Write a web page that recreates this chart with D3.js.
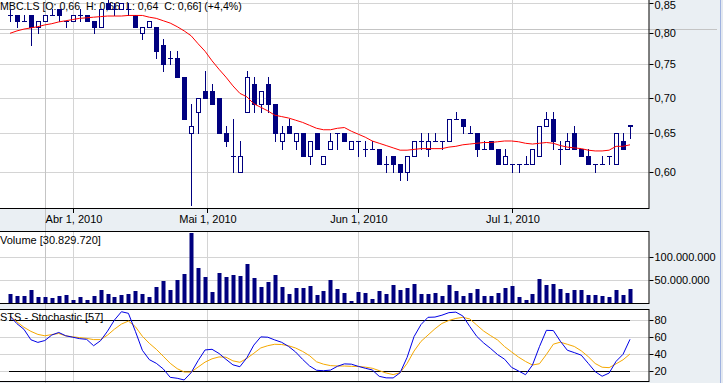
<!DOCTYPE html>
<html><head><meta charset="utf-8">
<script src="https://cdn.jsdelivr.net/npm/d3@7"></script>
<style>
body{margin:0;background:#eaeff3;}
svg{display:block}
text{font-family:"Liberation Sans",Arial,sans-serif;font-size:11px;fill:#000;white-space:pre;}
</style>
</head><body><svg id="c" width="723" height="383"></svg>
<script>
// ---------- data ----------
const openP  = [.83,.83,.82,.83,.81,.82,.83,.84,.82,.82, .83,.83,.82,.81,.85,.84,.84,.84,.83,.80, .81,.81,.78,.76,.76,.73,.65,.68,.71,.71, .70,.65,.62,.60,.68,.72,.69,.72,.69,.64, .66,.64,.65,.62,.65,.61,.63,.65,.65,.63, .64,.63,.63,.63,.61,.62,.61,.60,.62,.64, .63,.64,.64,.64,.67,.67,.65,.65,.63,.64, .63,.61,.61,.61,.61,.61,.62,.66,.67,.63, .63,.65,.63,.62,.61,.61,.62,.61,.64,.662];
const highP  = [.84,.83,.83,.83,.82,.83,.84,.84,.82,.83, .84,.83,.82,.84,.86,.85,.85,.85,.83,.81, .82,.81,.79,.77,.77,.73,.69,.70,.74,.72, .70,.66,.67,.64,.74,.73,.71,.73,.69,.66, .67,.65,.65,.64,.65,.62,.65,.65,.65,.64, .64,.64,.64,.63,.62,.62,.61,.62,.64,.65, .65,.65,.64,.67,.68,.67,.66,.65,.64,.64, .63,.63,.61,.61,.62,.63,.66,.68,.68,.64, .65,.66,.63,.63,.61,.62,.62,.65,.65,.662];
const lowP   = [.82,.81,.82,.78,.80,.82,.83,.82,.81,.82, .82,.82,.80,.81,.84,.83,.84,.83,.81,.79, .81,.76,.74,.75,.73,.67,.561,.65,.70,.69, .65,.633,.60,.60,.68,.68,.68,.68,.64,.63, .65,.63,.62,.61,.63,.61,.63,.63,.64,.63, .62,.62,.63,.61,.60,.60,.59,.59,.62,.63, .62,.64,.63,.64,.67,.65,.65,.62,.63,.63, .61,.61,.60,.60,.61,.61,.62,.66,.63,.61, .63,.63,.62,.61,.60,.61,.61,.61,.63,.644];
const closeP = [.83,.82,.82,.81,.82,.83,.83,.83,.82,.83, .83,.82,.81,.84,.84,.84,.85,.84,.81,.81, .82,.77,.75,.76,.73,.67,.66,.70,.70,.69, .65,.64,.62,.62,.73,.69,.71,.69,.65,.65, .65,.65,.62,.64,.63,.62,.64,.65,.64,.64, .64,.63,.63,.61,.61,.61,.60,.62,.64,.64, .64,.64,.64,.67,.67,.66,.65,.63,.63,.63, .61,.62,.61,.61,.61,.63,.66,.67,.64,.63, .64,.63,.62,.61,.61,.61,.62,.65,.63,.66];
const movingAvg = [.799,.803,.806,.808,.810,.813,.815,.818,.820,.822, .824,.825,.826,.827,.828,.828,.828,.829,.829,.829, .826,.824,.820,.816,.810,.803,.795,.782,.770,.755, .742,.730,.717,.706,.701,.691,.686,.681,.675,.673, .671,.668,.665,.661,.657,.655,.655,.657,.658,.653, .649,.645,.640,.637,.634,.631,.628,.628,.629,.630, .630,.630,.630,.632,.633,.635,.636,.637,.638,.638, .639,.640,.640,.639,.637,.636,.637,.638,.637,.634, .632,.631,.630,.628,.627,.627,.628,.633,.633,.635];
// volume in millions of shares
const volumeM = [20.6,16.2,16.2,29.2,14.1,14.1,11.9,16.2,18.4,7.6, 14.1,7.6,16.2,29.2,20.6,14.1,18.4,20.6,27.1,20.6, 14.1,35.7,48.7,29.2,50.9,63.9,152.6,76.8,57.4,24.9, 66.0,57.4,61.7,59.5,85.5,55.2,35.7,46.5,61.7,35.7, 20.6,33.5,33.5,37.9,18.4,27.1,50.9,31.4,22.7,5.4, 24.9,22.7,9.7,27.1,20.6,40.0,29.2,33.5,42.2,20.6, 20.6,22.7,16.2,40.0,27.1,16.2,22.7,31.4,16.2,16.2, 22.7,33.5,37.9,14.1,7.6,20.6,53.0,40.0,42.2,31.4, 22.7,29.2,29.2,18.4,18.4,16.2,14.1,29.2,18.4,30.8];
const stochK = [84.9,76.0,69.4,57.1,54.0,56.2,62.7,65.7,61.8,60.1, 58.4,57.6,50.1,56.0,67.2,80.4,90.1,88.2,67.0,44.7, 33.7,29.4,22.8,12.9,11.8,9.8,18.4,32.5,45.1,45.9, 41.0,34.1,27.6,25.4,35.9,50.8,60.5,60.1,56.9,54.1, 49.2,42.7,34.1,26.3,21.2,20.7,21.4,25.9,28.7,28.4, 25.8,23.6,21.6,14.1,12.3,12.2,18.3,36.3,60.8,75.0, 83.5,83.8,86.0,89.0,89.6,85.1,72.7,61.1,53.3,46.8, 39.6,34.2,24.6,20.4,16.0,27.4,49.0,68.2,67.9,55.4, 44.8,42.0,39.0,29.4,19.6,14.2,17.9,31.7,40.0,57.6];
const stochD = [85.1,78.1,71.8,67.0,63.4,61.8,63.2,64.5,61.7,60.6, 59.6,58.7,57.3,57.3,62.6,69.6,75.6,79.1,72.5,61.2, 52.9,45.9,37.7,29.4,23.1,19.2,19.1,25.0,30.8,34.7, 36.9,36.6,32.3,30.6,35.2,41.2,47.5,50.1,51.8,51.5, 50.0,47.4,43.4,38.4,31.2,28.4,26.7,26.2,26.2,25.8, 25.7,24.9,23.6,20.8,18.0,16.1,18.3,29.2,43.8,55.2, 62.6,70.0,76.3,79.8,82.2,83.5,81.6,74.4,67.3,61.9, 56.8,49.0,42.8,36.7,31.6,27.4,28.9,39.8,51.9,54.3, 51.8,49.2,44.1,37.3,29.2,24.8,24.3,28.8,33.5,40.4];
const dateLabels = ["Abr 1, 2010","Mai 1, 2010","Jun 1, 2010","Jul 1, 2010"];
const dateIndex  = [9, 28.3, 50, 72];
const priceTicks = [0.60,0.65,0.70,0.75,0.80,0.85];
const volumeTicks = [50,100];
const stochTicks = [20,40,60,80];
const stochBands = [20,80];
const titleText = "MBC.LS [O: 0,66  H: 0,66  L: 0,64  C: 0,66] (+4,4%)";
const volumeTitle = "Volume [30.829.720]";
const stochTitle = "STS - Stochastic [57]";
const cursorIndex = 5, cursorPrice = 0.806;

// ---------- layout ----------
const W = 723, H = 383, right = 649.5;
const main = {top:-1, bottom:209}, vol = {top:231, bottom:304}, sto = {top:309, bottom:382};
const navy = "#00007f", grid = "#d4d4d4";
const svg = d3.select("#c");
const n = closeP.length;
const x = d3.scaleLinear().domain([0, n-1]).range([10, 630]);
const yP = d3.scaleLog().domain([0.5563, 0.8558]).range([209, 0]);
const yV = d3.scaleLinear().domain([0, 100]).range([303.5, 257.3]);
const yS = d3.scaleLinear().domain([0, 100]).range([388.3, 303.3]);
const px = i => Math.round(x(i));
const fmtP = d => d3.format(".2f")(d).replace(".", ",");
const fmtV = d => d3.format(",")(d*1e6).replace(/,/g, ".");

// panel backgrounds
[main, vol, sto].forEach(p => {
  svg.append("rect").attr("x", -1).attr("y", p.top).attr("width", right+1).attr("height", p.bottom-p.top).attr("fill", "#fff");
});

// gridlines
function hGrid(ticks, scale, p) {
  svg.append("g").selectAll("line").data(ticks).join("line")
    .attr("x1", 0).attr("x2", right).attr("y1", d => Math.round(scale(d))+0.5).attr("y2", d => Math.round(scale(d))+0.5)
    .attr("stroke", grid);
}
function vGrid(p) {
  svg.append("g").selectAll("line").data(dateIndex).join("line")
    .attr("x1", d => px(d)+0.5).attr("x2", d => px(d)+0.5).attr("y1", p.top).attr("y2", p.bottom)
    .attr("stroke", grid);
}
hGrid(priceTicks, yP, main); vGrid(main);
hGrid(volumeTicks, yV, vol); vGrid(vol);
hGrid(stochTicks, yS, sto); vGrid(sto);

// crosshair (cursor)
svg.append("line").attr("x1", px(cursorIndex)+0.5).attr("x2", px(cursorIndex)+0.5).attr("y1", 0).attr("y2", H).attr("stroke", "#c4c4c4");
svg.append("line").attr("x1", 0).attr("x2", 717).attr("y1", Math.round(yP(cursorPrice))+0.5).attr("y2", Math.round(yP(cursorPrice))+0.5).attr("stroke", "#c4c4c4");

// title texts (drawn under candles)
svg.append("text").attr("x", 0).attr("y", 10).style("font-size", "10.6px").text(titleText);

// candles
const cg = svg.append("g");
d3.range(n).forEach(i => {
  const cx = px(i) + 0.5;
  const o = openP[i], c = closeP[i];
  cg.append("line").attr("x1", cx).attr("x2", cx)
    .attr("y1", Math.round(yP(highP[i]))).attr("y2", Math.round(yP(lowP[i]))+1)
    .attr("stroke", navy);
  const yo = Math.round(yP(o)), yc = Math.round(yP(c));
  if (Math.abs(yo - yc) < 1) {
    cg.append("line").attr("x1", cx-2.5).attr("x2", cx+2.5).attr("y1", yo+0.5).attr("y2", yo+0.5).attr("stroke", navy);
  } else if (c > o) {
    cg.append("rect").attr("x", cx-2).attr("y", yc+0.5).attr("width", 4).attr("height", yo-yc)
      .attr("fill", "#fff").attr("stroke", navy);
  } else {
    cg.append("rect").attr("x", cx-2.5).attr("y", yo).attr("width", 5).attr("height", yc-yo+1)
      .attr("fill", navy);
  }
});

// moving average
svg.append("path").datum(movingAvg)
  .attr("d", d3.line().x((d,i) => x(i)).y(d => yP(d)))
  .attr("fill", "none").attr("stroke", "#ff0000").attr("stroke-width", 1);

// volume bars
svg.append("g").selectAll("rect").data(volumeM).join("rect")
  .attr("x", (d,i) => px(i)-1.5).attr("width", 4)
  .attr("y", d => Math.round(yV(d))).attr("height", d => vol.bottom - Math.round(yV(d)))
  .attr("fill", navy);
svg.append("text").attr("x", 0).attr("y", 244).text(volumeTitle);

// stochastic
svg.append("g").selectAll("line").data(stochBands).join("line")
  .attr("x1", x(0)-1).attr("x2", x(n-1)).attr("y1", d => Math.round(yS(d))+0.5).attr("y2", d => Math.round(yS(d))+0.5)
  .attr("stroke", "#000");
svg.append("path").datum(stochD)
  .attr("d", d3.line().x((d,i) => x(i)).y(d => yS(d)))
  .attr("fill", "none").attr("stroke", "#f5a800").attr("stroke-width", 1);
svg.append("path").datum(stochK)
  .attr("d", d3.line().x((d,i) => x(i)).y(d => yS(d)))
  .attr("fill", "none").attr("stroke", "#0000e6").attr("stroke-width", 1);
svg.append("text").attr("x", 0).attr("y", 321).text(stochTitle);

// frames
[main, vol, sto].forEach(p => {
  svg.append("rect").attr("x", -1.5).attr("y", p.top+0.5).attr("width", right+1).attr("height", p.bottom-p.top-1)
    .attr("fill", "none").attr("stroke", "#000");
});

// right axes
function rAxis(ticks, scale, fmt) {
  const g = svg.append("g");
  g.selectAll("line").data(ticks).join("line")
    .attr("x1", right).attr("x2", right+4).attr("y1", d => Math.round(scale(d))+0.5).attr("y2", d => Math.round(scale(d))+0.5)
    .attr("stroke", "#000");
  g.selectAll("text").data(ticks).join("text")
    .attr("x", right+5).attr("y", d => Math.max(scale(d)+4, 9)).text(fmt);
}
rAxis(priceTicks, yP, fmtP);
rAxis(volumeTicks, yV, fmtV);
rAxis(stochTicks, yS, d => d);

// date axis
const dg = svg.append("g");
dg.selectAll("line").data(dateIndex).join("line")
  .attr("x1", d => px(d)+0.5).attr("x2", d => px(d)+0.5).attr("y1", main.bottom).attr("y2", main.bottom+4).attr("stroke", "#000");
dg.selectAll("text").data(dateIndex).join("text")
  .attr("x", d => px(d)+1).attr("y", 223).attr("text-anchor", "middle").text((d,i) => dateLabels[i]);

// right window edge
svg.append("line").attr("x1", 720.5).attr("x2", 720.5).attr("y1", 0).attr("y2", H).attr("stroke", "#9fb2e0");
svg.append("rect").attr("x", 721).attr("y", 0).attr("width", 2).attr("height", H).attr("fill", "#e4e9f0");
</script>
</body></html>
